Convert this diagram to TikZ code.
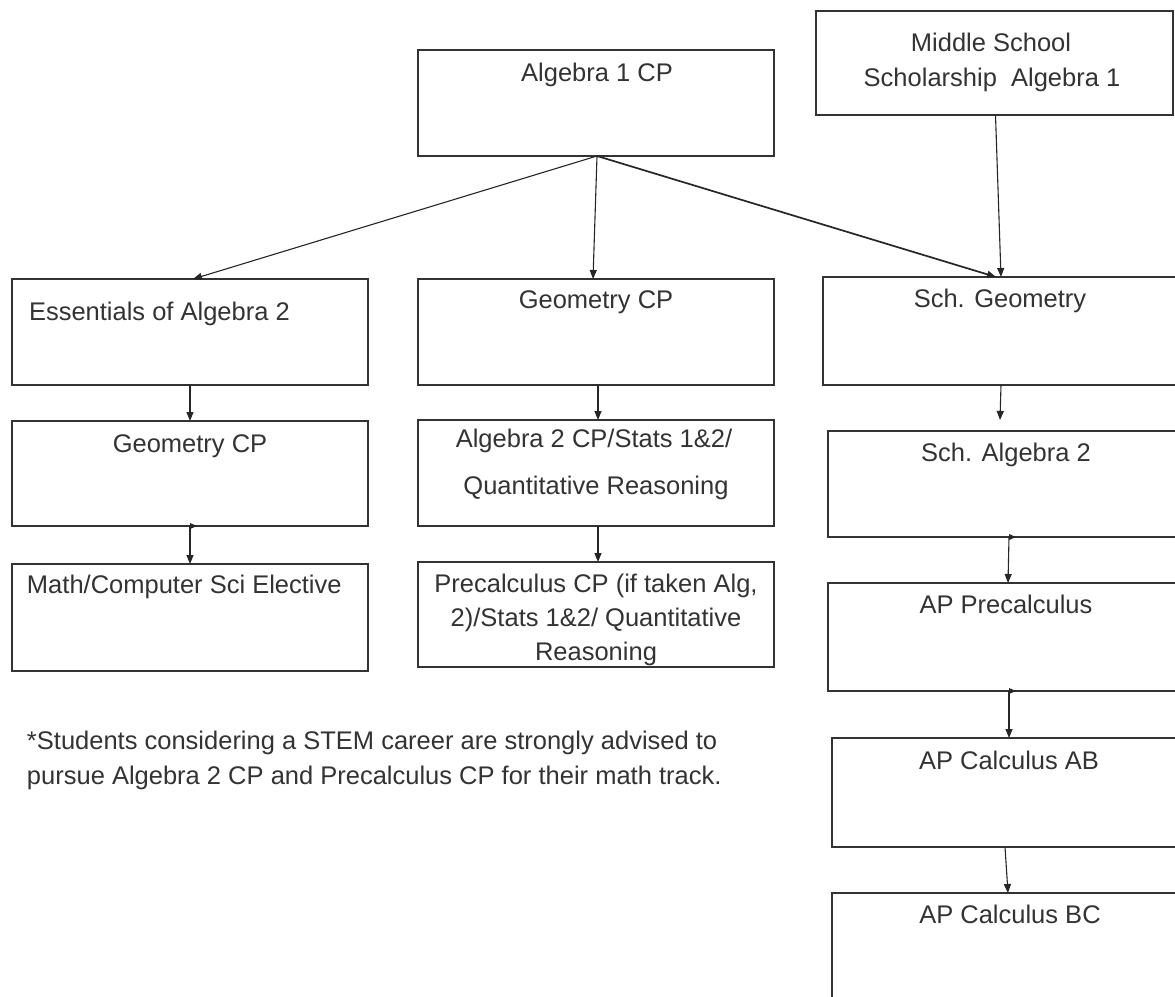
\documentclass[tikz,border=0pt]{standalone}
\usepackage{fontspec}
\setmainfont{Liberation Sans}
\usetikzlibrary{arrows.meta}
\begin{document}
\begin{tikzpicture}[x=1pt,y=-1pt,
  box/.style={draw=black!80, line width=1.4pt, rectangle, inner sep=0pt, outer sep=0pt, anchor=north west},
  lbl/.style={font=\fontsize{25.5}{30}\selectfont, text=black!80, inner sep=0pt, outer sep=0pt},
  conn/.style={draw=black!85, line width=1.1pt, -{Triangle[length=9pt,width=7pt]}},
  tick/.style={fill=black!85}
]
\useasboundingbox (0,0) rectangle (1175,996);
\fill[white] (0,0) rectangle (1175,996);

% boxes
\node[box, minimum width=356pt, minimum height=106pt] (alg1) at (418,50) {};
\node[box, minimum width=357pt, minimum height=104pt] (ms) at (816,11) {};
\node[box, minimum width=356pt, minimum height=106pt] (ess) at (12,279) {};
\node[box, minimum width=356pt, minimum height=106pt] (geomid) at (418,279) {};
\node[box, minimum width=356pt, minimum height=108pt] (schgeo) at (823,277) {};
\node[box, minimum width=356pt, minimum height=105pt] (geoleft) at (12,421) {};
\node[box, minimum width=356pt, minimum height=106pt] (alg2) at (418,420) {};
\node[box, minimum width=352pt, minimum height=106pt] (schalg2) at (828,431) {};
\node[box, minimum width=356pt, minimum height=107pt] (math) at (12,564) {};
\node[box, minimum width=356pt, minimum height=105pt] (precalc) at (418,562) {};
\node[box, minimum width=352pt, minimum height=108pt] (apprecalc) at (828,583) {};
\node[box, minimum width=348pt, minimum height=109pt] (apab) at (832,738) {};
\node[box, minimum width=348pt, minimum height=110pt] (apbc) at (832,893) {};

% labels
\node[lbl, anchor=base] (t-alg1) at (597,81) {Algebra 1 CP};
\node[lbl, anchor=base] (t-ms1) at (991,51) {Middle School};
\node[lbl, anchor=base] (t-ms2) at (992,86) {Scholarship\ \ Algebra 1};
\node[lbl, anchor=base west] (t-ess) at (29,320) {Essentials of Algebra 2};
\node[lbl, anchor=base] (t-geomid) at (596,308) {Geometry CP};
\node[lbl, anchor=base] (t-schgeo) at (1000,307) {Sch. Geometry};
\node[lbl, anchor=base] (t-geoleft) at (190,452) {Geometry CP};
\node[lbl, anchor=base] (t-alg2a) at (594,447) {Algebra 2 CP/Stats 1\&2/};
\node[lbl, anchor=base] (t-alg2b) at (596,494) {Quantitative Reasoning};
\node[lbl, anchor=base] (t-schalg2) at (1006,461) {Sch. Algebra 2};
\node[lbl, anchor=base west] (t-math) at (27,593) {Math/Computer Sci Elective};
\node[lbl, anchor=base] (t-pre1) at (596,592) {Precalculus CP (if taken Alg,};
\node[lbl, anchor=base] (t-pre2) at (596,626) {2)/Stats 1\&2/ Quantitative};
\node[lbl, anchor=base] (t-pre3) at (596,660) {Reasoning};
\node[lbl, anchor=base] (t-appre) at (1006,613) {AP Precalculus};
\node[lbl, anchor=base] (t-apab) at (1009,769) {AP Calculus AB};
\node[lbl, anchor=base] (t-apbc) at (1010,923) {AP Calculus BC};

\node[lbl, anchor=base west] (note1) at (27,749) {*Students considering a STEM career are strongly advised to};
\node[lbl, anchor=base west] (note2) at (27,784) {pursue Algebra 2 CP and Precalculus CP for their math track.};

% connectors
\coordinate (schgeoend) at (1000,420);
\draw[conn] ([xshift=1pt]alg1.south) -- ([xshift=3pt]ess.north);
\draw[conn] ([xshift=1pt]alg1.south) -- ([xshift=-3pt]geomid.north);
\draw[conn, line width=1.7pt] ([xshift=1pt]alg1.south) -- ([xshift=-5pt]schgeo.north);
\draw[conn] ([xshift=1pt]ms.south) -- ([xshift=0pt]schgeo.north);
\draw[conn] (ess.south) -- (geoleft.north);
\draw[conn] (geoleft.south) -- (math.north);
\draw[conn] ([xshift=2pt]geomid.south) -- ([xshift=2pt]alg2.north);
\draw[conn] ([xshift=2pt]alg2.south) -- ([xshift=2pt]precalc.north);
\draw[conn] (schgeo.south) -- (schgeoend);
\draw[conn] ([xshift=5pt]schalg2.south) -- ([xshift=4pt]apprecalc.north);
\draw[conn] ([xshift=5pt]apprecalc.south) -- ([xshift=3pt]apab.north);
\draw[conn] ([xshift=-1pt]apab.south) -- ([xshift=2pt]apbc.north);

% small start marks at some connector origins
\fill[tick] (geoleft.south) ++(0,-3) -- ++(7,3) -- ++(-7,3) -- cycle;
\fill[tick] ([xshift=5pt]schalg2.south) ++(0,-3) -- ++(7,3) -- ++(-7,3) -- cycle;
\fill[tick] ([xshift=5pt]apprecalc.south) ++(0,-3) -- ++(7,3) -- ++(-7,3) -- cycle;
\end{tikzpicture}
\end{document}
